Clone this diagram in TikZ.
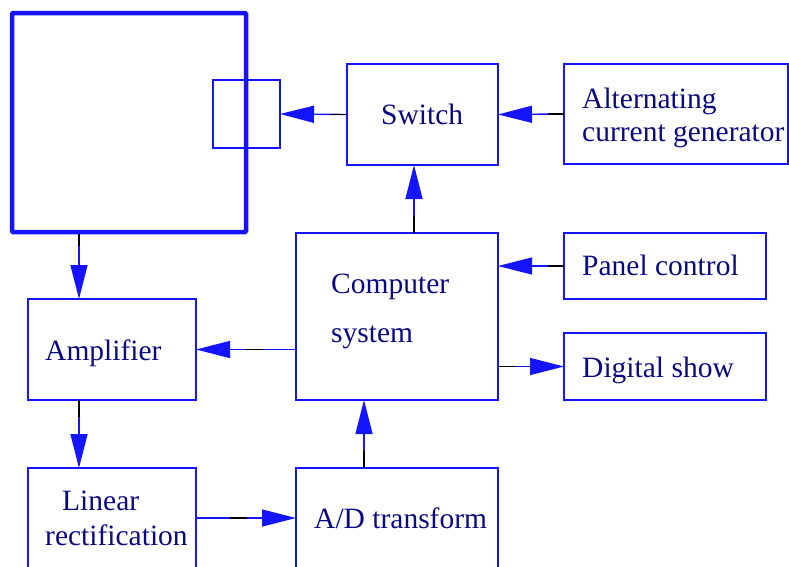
\documentclass[tikz,border=0pt]{standalone}
\usepackage{fontspec}
\setmainfont{Liberation Serif}
\usetikzlibrary{arrows.meta,calc}
\definecolor{lineblue}{RGB}{20,20,255}
\definecolor{textnavy}{RGB}{10,10,128}
\tikzset{
  box/.style={draw=lineblue, line width=1.4pt, rectangle, inner sep=0pt, outer sep=0pt},
  bigbox/.style={draw=lineblue, line width=4.5pt, rectangle, inner sep=0pt, outer sep=0pt, rounded corners=1pt},
  conn/.style={draw=lineblue, line width=1.4pt, -{Triangle[length=34pt,width=17pt]}},
  blk/.style={draw=black, line width=1.4pt},
  lbl/.style={anchor=base west, inner sep=0pt, text=textnavy, font=\fontsize{29.5}{34}\selectfont}
}
\begin{document}
\begin{tikzpicture}[x=1pt,y=-1pt]
\useasboundingbox (0,0) rectangle (789,566);
% boxes
\node[bigbox, minimum width=234pt, minimum height=219pt] (big) at (129,122.5) {};
\node[box, minimum width=67pt, minimum height=68pt] (small) at (246.5,114) {};
\node[box, minimum width=151pt, minimum height=101pt] (switch) at (422.5,114.5) {};
\node[box, minimum width=224pt, minimum height=100pt] (alt) at (676,114) {};
\node[box, minimum width=202pt, minimum height=167pt] (comp) at (397,316.5) {};
\node[box, minimum width=202pt, minimum height=66pt] (panel) at (665,266) {};
\node[box, minimum width=202pt, minimum height=67pt] (dig) at (665,366.5) {};
\node[box, minimum width=168pt, minimum height=101pt] (amp) at (112,349.5) {};
\node[box, minimum width=168pt, minimum height=100pt] (lin) at (112,518) {};
\node[box, minimum width=202pt, minimum height=100pt] (ad) at (397,518) {};
% texts
\node[lbl] (tsw) at (381,124) {Switch};
\node[lbl] (talt1) at (582,108) {Alternating};
\node[lbl] (talt2) at (582,141) {current generator};
\node[lbl] (tcomp1) at (331,293) {Computer};
\node[lbl] (tcomp2) at (331,342) {system};
\node[lbl] (tpan) at (582,275) {Panel control};
\node[lbl] (tdig) at (582,377) {Digital show};
\node[lbl] (tamp) at (45,360) {Amplifier};
\node[lbl] (tlin1) at (62,510) {Linear};
\node[lbl] (tlin2) at (45,545) {rectification};
\node[lbl] (tad) at (314,528) {A/D transform};
% helper coordinates
\coordinate (xa) at ([xshift=51pt]amp.north west);
\coordinate (xb) at ([xshift=68pt]comp.south west);
\coordinate (xc) at ([xshift=118pt]comp.north west);
% connectors
\draw[conn] (switch.west) -- (small.east);
\draw[conn] (alt.west) -- (switch.east);
\draw[conn] (panel.west) -- (panel.west -| comp.east);
\draw[conn] (comp.east |- dig.west) -- (dig.west);
\draw[conn] (comp.west |- amp.east) -- (amp.east);
\draw[conn] (xa |- big.south) -- (xa);
\draw[conn] (xa |- amp.south) -- (xa |- lin.north);
\draw[conn] (lin.east) -- (lin.east -| ad.west);
\draw[conn] (xb |- ad.north) -- (xb);
\draw[conn] (xc) -- (xc |- switch.south);
% black segments of the connectors
\draw[blk] (switch.west) -- ++(-17,0);
\draw[blk] (alt.west) -- ++(-16,0);
\draw[blk] (panel.west) -- ++(-16,0);
\draw[blk] (comp.east |- dig.west) -- ++(17,0);
\draw[blk] ($(comp.west |- amp.east)+(-33,0)$) -- ++(-17,0);
\draw[blk] ($(xa |- big.south)+(0,2)$) -- ++(0,12);
\draw[blk] (xa |- amp.south) -- ++(0,17);
\draw[blk] ($(lin.east)+(34,0)$) -- ++(17,0);
\draw[blk] (xb |- ad.north) -- ++(0,-17);
\draw[blk] (xc) -- ++(0,-17);
\end{tikzpicture}
\end{document}
